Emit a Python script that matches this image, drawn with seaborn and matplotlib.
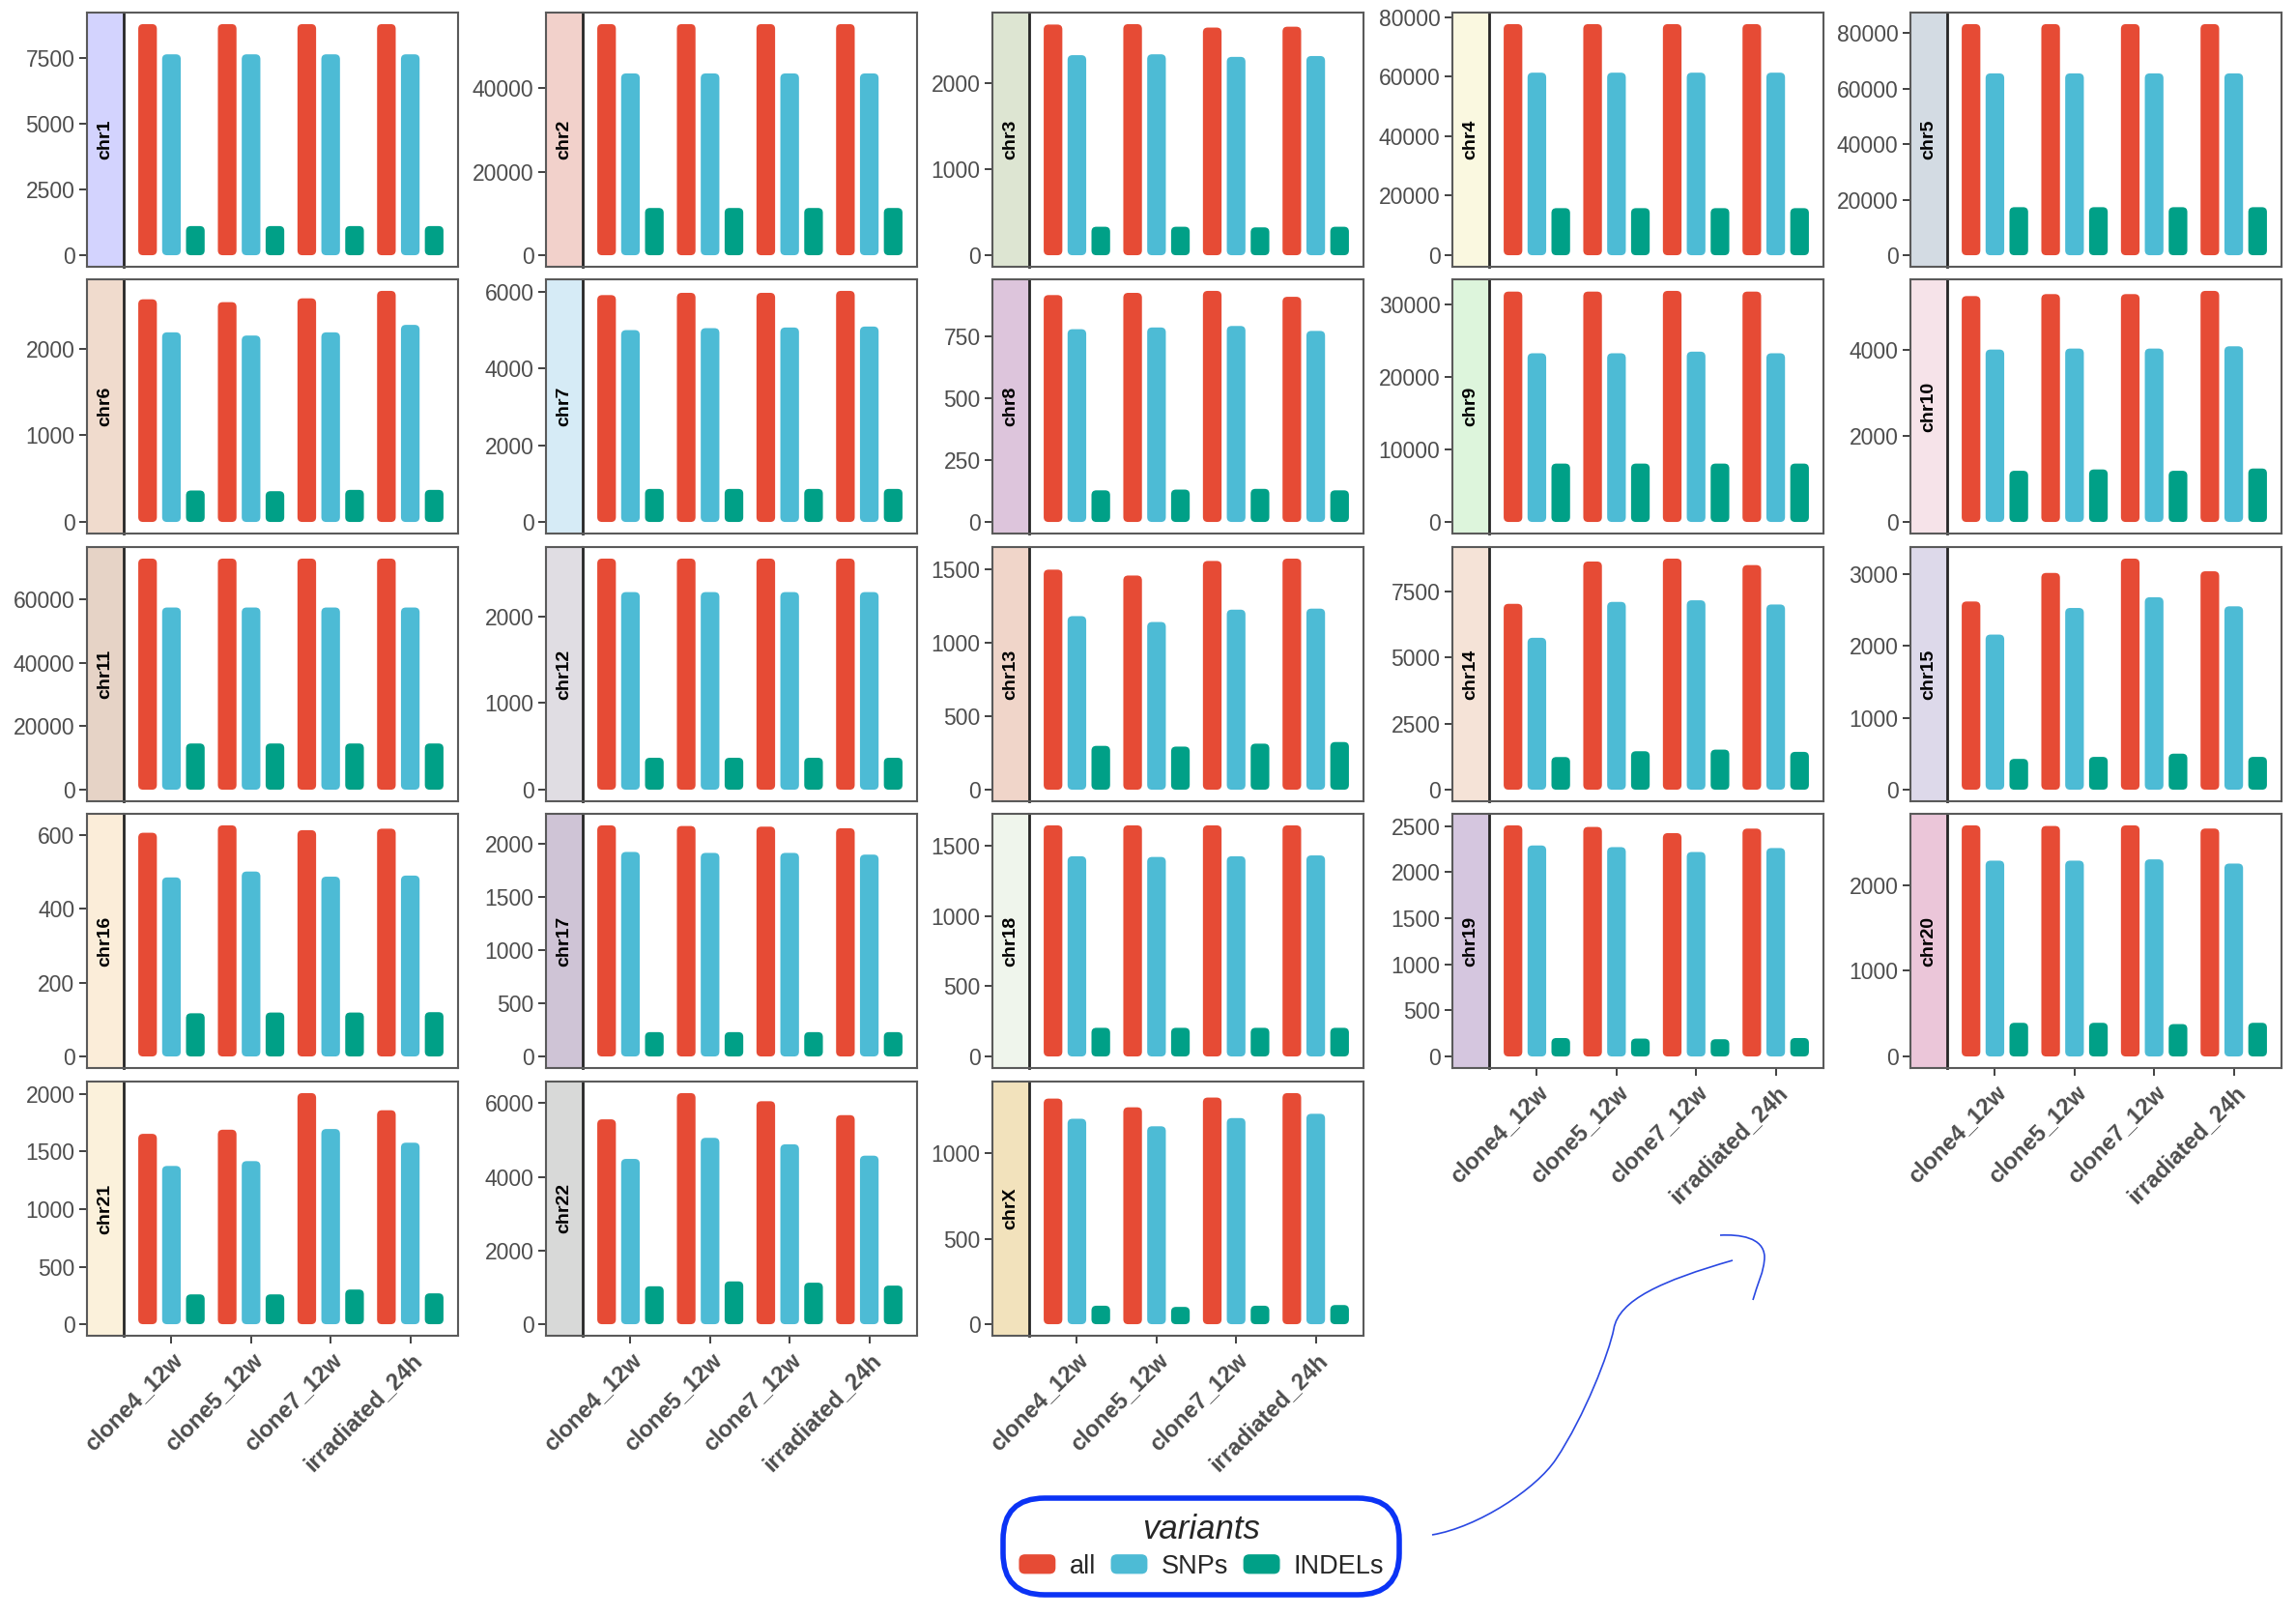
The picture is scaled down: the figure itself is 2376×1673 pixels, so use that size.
import matplotlib
matplotlib.use('Agg')
import pandas as pd
import matplotlib.pyplot as plt
import seaborn as sns
from matplotlib.patches import FancyBboxPatch, PathPatch, Patch
from matplotlib.path import Path
from matplotlib.ticker import MultipleLocator, FuncFormatter
from matplotlib.legend_handler import HandlerPatch

# ---- data ----
samples = ['clone4_12w', 'clone5_12w', 'clone7_12w', 'irradiated_24h']
variants = ['all', 'SNPs', 'INDELs']
chroms = ['chr1', 'chr2', 'chr3', 'chr4', 'chr5', 'chr6', 'chr7', 'chr8', 'chr9', 'chr10',
          'chr11', 'chr12', 'chr13', 'chr14', 'chr15', 'chr16', 'chr17', 'chr18', 'chr19',
          'chr20', 'chr21', 'chr22', 'chrX']

all_counts = [
    [8800, 8800, 8800, 8800], [55300, 55300, 55300, 55300], [2675, 2680, 2640, 2650],
    [77600, 77600, 77600, 77600], [83250, 83250, 83250, 83250], [2568, 2535, 2579, 2665],
    [5917, 5976, 5976, 6027], [918, 927, 935, 911], [31800, 31800, 31900, 31800],
    [5260, 5306, 5306, 5381], [72800, 72800, 72800, 72800], [2664, 2664, 2664, 2664],
    [1496, 1456, 1555, 1571], [7036, 8638, 8748, 8503], [2616, 3013, 3212, 3036],
    [606, 626, 613, 617], [2174, 2168, 2162, 2147], [1646, 1646, 1646, 1646],
    [2507, 2490, 2423, 2472], [2699, 2692, 2699, 2662], [1654, 1690, 2008, 1859],
    [5559, 6271, 6051, 5673], [1319, 1268, 1325, 1351]]
snp_counts = [
    [7650, 7650, 7650, 7650], [43500, 43500, 43500, 43500], [2320, 2330, 2300, 2310],
    [61300, 61300, 61300, 61300], [65500, 65500, 65500, 65500], [2187, 2150, 2187, 2273],
    [5004, 5055, 5072, 5097], [780, 787, 793, 773], [23290, 23290, 23510, 23290],
    [4015, 4038, 4038, 4091], [57400, 57400, 57400, 57400], [2278, 2278, 2278, 2278],
    [1180, 1140, 1224, 1231], [5751, 7109, 7170, 7011], [2156, 2526, 2675, 2549],
    [485, 501, 487, 490], [1924, 1915, 1915, 1899], [1426, 1421, 1426, 1432],
    [2289, 2271, 2218, 2261], [2287, 2287, 2302, 2253], [1375, 1417, 1696, 1577],
    [4485, 5057, 4881, 4573], [1201, 1157, 1205, 1230]]
indel_counts = [
    [1110, 1110, 1110, 1110], [11300, 11300, 11300, 11300], [330, 330, 323, 330],
    [15800, 15800, 15800, 15800], [17300, 17300, 17300, 17300], [363, 355, 370, 370],
    [862, 862, 862, 862], [128, 131, 134, 128], [8060, 8060, 8060, 8060],
    [1192, 1223, 1192, 1245], [14560, 14560, 14560, 14560], [368, 368, 368, 368],
    [298, 293, 313, 324], [1236, 1456, 1517, 1432], [428, 456, 501, 456],
    [117, 119, 119, 120], [229, 229, 229, 229], [204, 204, 204, 204],
    [200, 194, 187, 200], [393, 393, 378, 393], [259, 259, 301, 268],
    [1029, 1161, 1126, 1047], [108, 101, 108, 112]]

y_steps = [2500, 20000, 1000, 20000, 20000, 1000, 2000, 250, 10000, 2000, 20000, 1000,
           500, 2500, 1000, 200, 500, 500, 500, 1000, 500, 2000, 500]

strip_colors = ['#D3D3FE', '#F2D1CB', '#DDE5D2', '#FAF8E0', '#D3DBE3', '#F0DBCD', '#D6EBF6',
                '#DDC5DC', '#DDF5DC', '#F6E3E9', '#E6D3C6', '#E0DDE3', '#F0D5C9', '#F5E3D7',
                '#DDD9EA', '#FBEDD9', '#CFC4D6', '#EFF5EC', '#D5C6DF', '#EBC6D9', '#FBF1DB',
                '#D8D9D8', '#F2E2BC']

pal = {'all': '#E64B35', 'SNPs': '#4DBBD5', 'INDELs': '#00A087'}

# long table
rows = []
for i, c in enumerate(chroms):
    for j, s in enumerate(samples):
        rows.append((c, s, 'all', all_counts[i][j]))
        rows.append((c, s, 'SNPs', snp_counts[i][j]))
        rows.append((c, s, 'INDELs', indel_counts[i][j]))
df = pd.DataFrame(rows, columns=['chrom', 'sample', 'variant', 'count'])

sns.set_theme(style='white')
plt.rcParams['font.family'] = ['Liberation Sans', 'DejaVu Sans']

W, H = 2376, 1673
fig = plt.figure(figsize=(W / 100, H / 100), dpi=100)

col_left = [90, 565, 1027, 1503, 1977]
row_top = [13, 289, 566, 842, 1119]
panel_w, panel_h, strip_w = 384, 263, 38
border = '#5A5A5A'


def to_fig(x, y, w, h):
    return [x / W, 1 - (y + h) / H, w / W, h / H]


for i, chrom in enumerate(chroms):
    r, c = divmod(i, 5)
    x0, y0 = col_left[c], row_top[r]
    bottom_panel = r == 4 or (r == 3 and c >= 3)
    ymax = max(all_counts[i])
    ylim = (-0.05 * ymax, 1.05 * ymax)

    ax_s = fig.add_axes(to_fig(x0, y0, strip_w, panel_h))
    ax = fig.add_axes(to_fig(x0 + strip_w, y0, panel_w - strip_w, panel_h))

    # strip with y axis
    ax_s.set_facecolor(strip_colors[i])
    ax_s.set_ylim(ylim)
    ax_s.set_xticks([])
    ax_s.yaxis.set_major_locator(MultipleLocator(y_steps[i]))
    ax_s.yaxis.set_major_formatter(FuncFormatter(lambda v, p: f"{int(round(v))}"))
    ax_s.tick_params(axis='y', left=True, length=6, width=1.3, color='#333333',
                     labelsize=16.5, labelcolor='#4D4D4D', pad=3)
    for sp in ax_s.spines.values():
        sp.set_color(border)
        sp.set_linewidth(1.5)
    ax_s.spines['right'].set_visible(False)
    ax_s.text(0.5, 0.5, chrom, rotation=90, ha='center', va='center',
              transform=ax_s.transAxes, fontweight='bold', fontsize=14, color='black')

    sub = df[df['chrom'] == chrom]
    sns.barplot(data=sub, x='sample', y='count', hue='variant', order=samples,
                hue_order=variants, palette=pal, width=0.9, gap=0.22, saturation=1,
                errorbar=None, legend=False, ax=ax)
    ax.set_xlim(-0.6, 3.6)
    ax.set_ylim(ylim)
    ax.set_xlabel('')
    ax.set_ylabel('')
    ax.set_yticks([])

    # rounded bars
    ux = 4.2 / (panel_w - strip_w)
    uy = (ylim[1] - ylim[0]) / panel_h
    for p in list(ax.patches):
        px, py, pw, ph = p.get_x(), p.get_y(), p.get_width(), p.get_height()
        fc = p.get_facecolor()
        p.remove()
        ax.add_patch(FancyBboxPatch((px, py), pw, ph,
                                    boxstyle=f"round,pad=0,rounding_size={5 * ux}",
                                    mutation_aspect=uy / ux, fc=fc, ec='none'))

    for sp in ax.spines.values():
        sp.set_color(border)
        sp.set_linewidth(1.5)
    ax.spines['left'].set_color('#262626')
    ax.spines['left'].set_linewidth(2)

    if bottom_panel:
        ax.set_xticks(range(len(samples)))
        ax.set_xticklabels(samples, rotation=45, ha='right', va='top', rotation_mode='anchor',
                           fontweight='bold', color='#4D4D4D', fontsize=17)
        ax.tick_params(axis='x', bottom=True, length=6, width=1.3, color='#333333', pad=4)
    else:
        ax.set_xticks([])

# legend
def rounded_key(legend, orig_handle, xdescent, ydescent, width, height, fontsize):
    return FancyBboxPatch((-xdescent, -ydescent), width, height,
                          boxstyle="round,pad=0,rounding_size=5")


handles = [Patch(facecolor=pal[v], label=v) for v in variants]
leg = fig.legend(handles=handles, labels=variants, loc='center',
                 bbox_to_anchor=(1243 / W, 1 - 1600 / H), ncol=3, title='variants',
                 title_fontproperties={'style': 'italic', 'size': 25}, fontsize=19.5,
                 frameon=True, handlelength=1.45, handleheight=0.85, handletextpad=0.5,
                 columnspacing=0.55, borderpad=0.6, labelspacing=0.3,
                 handler_map={Patch: HandlerPatch(patch_func=rounded_key)})
frame = leg.get_frame()
frame.set_edgecolor('#0B33F5')
frame.set_linewidth(4)
frame.set_facecolor('white')
frame.set_alpha(1)
frame.set_boxstyle('round,pad=0,rounding_size=1.6')

# hand-drawn pointer
def px(x, y):
    return (x / W, 1 - y / H)


verts = [px(1482, 1588), px(1530, 1580), px(1590, 1540), px(1610, 1510),
         px(1640, 1465), px(1665, 1400), px(1670, 1375),
         px(1675, 1345), px(1720, 1325), px(1793, 1304)]
codes = [Path.MOVETO] + [Path.CURVE4] * 9
fig.add_artist(PathPatch(Path(verts, codes), fill=False, ec='#2A48E2', lw=1.2,
                         transform=fig.transFigure))
verts2 = [px(1780, 1278), px(1800, 1277), px(1825, 1280), px(1826, 1300),
          px(1826, 1315), px(1818, 1330), px(1814, 1345)]
codes2 = [Path.MOVETO] + [Path.CURVE4] * 6
fig.add_artist(PathPatch(Path(verts2, codes2), fill=False, ec='#2A48E2', lw=1.2,
                         transform=fig.transFigure))

fig.savefig('out.png', dpi=100, facecolor='white')
